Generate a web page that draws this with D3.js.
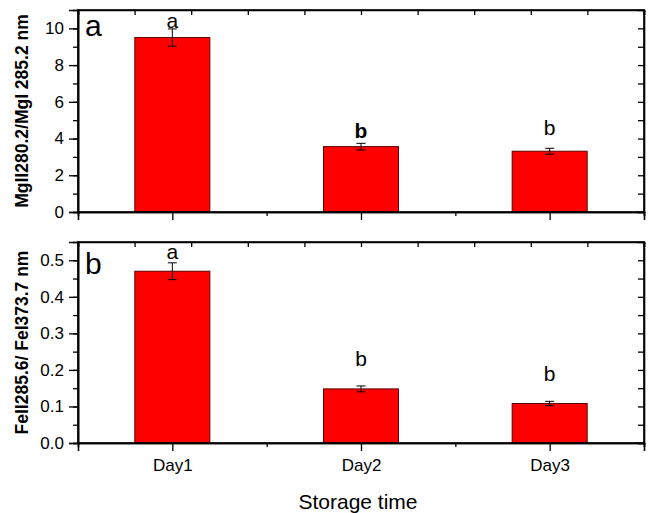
<!DOCTYPE html>
<html>
<head>
<meta charset="utf-8">
<script src="https://cdn.jsdelivr.net/npm/d3@7"></script>
<style>
  html, body { margin: 0; padding: 0; background: #fff; }
  svg { display: block; font-family: "Liberation Sans", Arial, sans-serif; }
</style>
</head>
<body>
<svg id="chart" width="648" height="513"></svg>
<script>
// Storage days on the shared x axis
const categories = ["Day1", "Day2", "Day3"];

// Panel a: Mg ionic/atomic line intensity ratio
const mgRatio = [9.5, 3.56, 3.31];
const mgError = [0.47, 0.18, 0.16];
const mgLetters = ["a", "b", "b"];
const mgLetterAt = [10.04, 4.04, 4.2];
const mgBoldLetter = [false, true, false];
const mgTicks = [0, 2, 4, 6, 8, 10];

// Panel b: Fe ionic/atomic line intensity ratio
const feRatio = [0.47, 0.148, 0.108];
const feError = [0.023, 0.008, 0.006];
const feLetters = ["a", "b", "b"];
const feLetterAt = [0.503, 0.211, 0.17];
const feBoldLetter = [false, false, false];
const feTicks = [0, 0.1, 0.2, 0.3, 0.4, 0.5];

const svg = d3.select("#chart");
const left = 78, right = 644;

const x = d3.scaleLinear().domain([0.5, 3.5]).range([left, right]);
const barWidth = 75;
const fontStack = "'Liberation Sans', Arial, sans-serif";

const panels = [
  { top: 10, bottom: 212, max: 11, values: mgRatio, errors: mgError,
    letters: mgLetters, letterAt: mgLetterAt, bold: mgBoldLetter,
    ticks: mgTicks, minorStep: 1, fmt: d3.format("d"),
    title: "MgII280.2/MgI 285.2 nm", tag: "a", tagY: 36, showX: false },
  { top: 242, bottom: 443, max: 0.55, values: feRatio, errors: feError,
    letters: feLetters, letterAt: feLetterAt, bold: feBoldLetter,
    ticks: feTicks, minorStep: 0.05, fmt: d3.format(".1f"),
    title: "FeII285.6/ FeI373.7 nm", tag: "b", tagY: 274, showX: true }
];

panels.forEach(p => {
  const y = d3.scaleLinear().domain([0, p.max]).range([p.bottom, p.top]);
  const g = svg.append("g");
  const nMinor = Math.round(p.max / p.minorStep);
  const minorVals = d3.range(0, nMinor + 1).map(i => +(i * p.minorStep).toFixed(4))
    .filter(v => v < p.max - 1e-9);

  // Bars
  g.selectAll("rect.bar").data(p.values).join("rect")
    .attr("class", "bar")
    .attr("x", (d, i) => x(i + 1) - barWidth / 2)
    .attr("width", barWidth)
    .attr("y", d => y(d))
    .attr("height", d => y(0) - y(d))
    .attr("fill", "#ff0000")
    .attr("stroke", "#5a0000")
    .attr("stroke-width", 1);

  // Error bars
  const eb = g.selectAll("g.err").data(p.values).join("g").attr("class", "err")
    .attr("stroke", "#000").attr("stroke-width", 1);
  eb.append("line")
    .attr("x1", (d, i) => x(i + 1)).attr("x2", (d, i) => x(i + 1))
    .attr("y1", (d, i) => y(d + p.errors[i])).attr("y2", (d, i) => y(d - p.errors[i]));
  eb.append("line")
    .attr("x1", (d, i) => x(i + 1) - 4.5).attr("x2", (d, i) => x(i + 1) + 4.5)
    .attr("y1", (d, i) => y(d + p.errors[i])).attr("y2", (d, i) => y(d + p.errors[i]));
  eb.append("line")
    .attr("x1", (d, i) => x(i + 1) - 4.5).attr("x2", (d, i) => x(i + 1) + 4.5)
    .attr("y1", (d, i) => y(d - p.errors[i])).attr("y2", (d, i) => y(d - p.errors[i]));

  // Significance letters
  g.selectAll("text.sig").data(p.letters).join("text")
    .attr("class", "sig")
    .attr("x", (d, i) => x(i + 1))
    .attr("y", (d, i) => y(p.letterAt[i]))
    .attr("text-anchor", "middle")
    .attr("font-size", 21)
    .attr("font-weight", (d, i) => p.bold[i] ? "bold" : "normal")
    .text(d => d);

  // Left axis: labelled major ticks plus minor ticks
  const yAxis = g.append("g").attr("transform", `translate(${left},0)`)
    .call(d3.axisLeft(y).tickValues(p.ticks).tickFormat(p.fmt).tickSize(9).tickPadding(5));
  yAxis.selectAll("text").attr("font-size", 17).attr("fill", "#000")
    .attr("font-family", fontStack);
  g.append("g").attr("transform", `translate(${left},0)`)
    .call(d3.axisLeft(y).tickValues(minorVals).tickFormat("").tickSize(5));

  // Right axis: inward ticks
  g.append("g").attr("transform", `translate(${right},0)`)
    .call(d3.axisRight(y).tickValues(minorVals).tickFormat("").tickSize(-6));

  // Top axis: inward ticks at tenths of the width
  const xTop = d3.scaleLinear().domain([0, 10]).range([left, right]);
  g.append("g").attr("transform", `translate(0,${p.top})`)
    .call(d3.axisTop(xTop).ticks(10).tickFormat("").tickSize(-5));

  // Bottom axis: category ticks and minor ticks between them
  const xAxis = g.append("g").attr("transform", `translate(0,${p.bottom})`)
    .call(d3.axisBottom(x).tickValues([1, 2, 3])
      .tickFormat(p.showX ? (d => categories[d - 1]) : "")
      .tickSize(8).tickPadding(8));
  xAxis.selectAll("text").attr("font-size", 17).attr("fill", "#000")
    .attr("font-family", fontStack);
  g.append("g").attr("transform", `translate(0,${p.bottom})`)
    .call(d3.axisBottom(x).tickValues([1.5, 2.5, 3.5]).tickFormat("").tickSize(4));

  // Frame
  g.append("rect")
    .attr("x", left).attr("y", p.top)
    .attr("width", right - left).attr("height", p.bottom - p.top)
    .attr("fill", "none").attr("stroke", "#000").attr("stroke-width", 1.6);

  g.selectAll(".domain").attr("stroke", "#000").attr("stroke-width", 1.6);
  g.selectAll(".tick line").attr("stroke", "#000").attr("stroke-width", 1.3);

  // Panel tag
  g.append("text").attr("x", 85).attr("y", p.tagY)
    .attr("font-size", 30).text(p.tag);

  // Y axis title
  g.append("text")
    .attr("transform", `translate(28,${(p.top + p.bottom) / 2}) rotate(-90)`)
    .attr("text-anchor", "middle")
    .attr("font-size", 17.5).attr("font-weight", "bold")
    .text(p.title);
});

// Shared x axis title
svg.append("text")
  .attr("x", 358).attr("y", 509)
  .attr("text-anchor", "middle")
  .attr("font-size", 21)
  .text("Storage time");
</script>
</body>
</html>
